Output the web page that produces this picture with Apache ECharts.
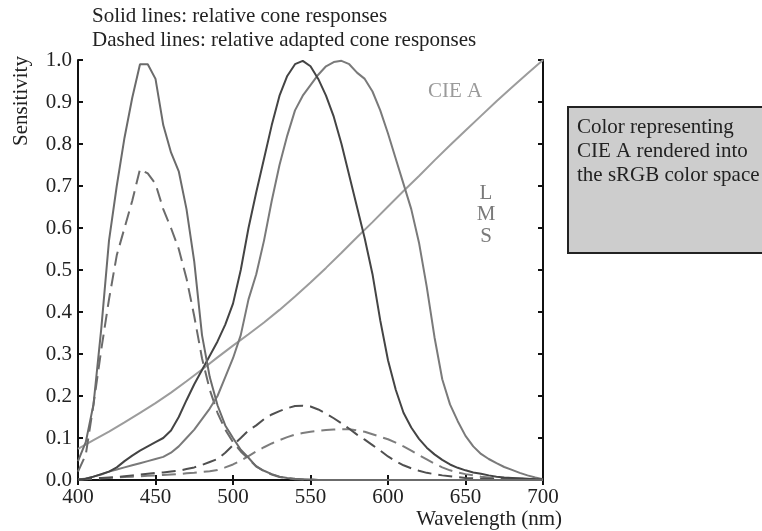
<!DOCTYPE html>
<html>
<head>
<meta charset="utf-8">
<script src="https://cdn.jsdelivr.net/npm/echarts@6/dist/echarts.min.js"></script>
<style>html,body{margin:0;padding:0;background:#fff}#c{width:762px;height:531px}</style>
</head>
<body>
<div id="c"></div>
<script>
// ---- data ----
const wavelengths = [400,405,410,415,420,425,430,435,440,445,450,455,460,465,470,475,480,485,490,495,500,505,510,515,520,525,530,535,540,545,550,555,560,565,570,575,580,585,590,595,600,605,610,615,620,625,630,635,640,645,650,655,660,665,670,675,680,685,690,695,700];
const sSolid = [0.045,0.09,0.18,0.36,0.57,0.70,0.815,0.91,0.99,0.99,0.955,0.845,0.78,0.735,0.645,0.52,0.345,0.245,0.178,0.13,0.10,0.072,0.053,0.032,0.022,0.014,0.008,0.005,0.003,0.002,0.001,0,0,0,0,0,0,0,0,0,0,0,0,0,0,0,0,0,0,0,0,0,0,0,0,0,0,0,0,0,0];
const mSolid = [0.0,0.003,0.008,0.014,0.02,0.03,0.045,0.058,0.07,0.08,0.09,0.10,0.118,0.15,0.19,0.228,0.262,0.296,0.33,0.37,0.42,0.50,0.60,0.685,0.765,0.845,0.915,0.962,0.99,0.998,0.985,0.955,0.915,0.865,0.80,0.725,0.65,0.575,0.49,0.38,0.285,0.215,0.16,0.125,0.098,0.077,0.061,0.048,0.037,0.029,0.023,0.018,0.015,0.011,0.008,0.006,0.005,0.004,0.003,0.002,0.001];
const lSolid = [0.0,0.003,0.008,0.013,0.02,0.025,0.03,0.035,0.04,0.045,0.05,0.055,0.065,0.08,0.10,0.12,0.145,0.17,0.20,0.245,0.29,0.345,0.43,0.49,0.57,0.665,0.75,0.82,0.88,0.915,0.94,0.965,0.985,0.995,0.998,0.99,0.97,0.955,0.925,0.88,0.825,0.765,0.705,0.645,0.565,0.46,0.34,0.24,0.18,0.14,0.105,0.08,0.062,0.05,0.04,0.031,0.024,0.017,0.011,0.006,0.002];
const sDashed = [0.02,0.06,0.18,0.31,0.43,0.535,0.60,0.665,0.74,0.73,0.705,0.645,0.60,0.55,0.48,0.39,0.29,0.215,0.16,0.12,0.09,0.068,0.05,0.033,0.021,0.013,0.007,0.004,0.002,0.001,0.001,0,0,0,0,0,0,0,0,0,0,0,0,0,0,0,0,0,0,0,0,0,0,0,0,0,0,0,0,0,0];
const mDashed = [0.002,0.003,0.004,0.005,0.006,0.007,0.009,0.011,0.013,0.015,0.017,0.018,0.02,0.022,0.026,0.03,0.036,0.043,0.05,0.065,0.083,0.10,0.118,0.13,0.145,0.156,0.164,0.171,0.176,0.177,0.175,0.168,0.158,0.147,0.135,0.122,0.108,0.096,0.083,0.07,0.056,0.045,0.035,0.028,0.022,0.017,0.014,0.011,0.009,0.007,0.005,0.004,0.003,0.003,0.002,0.002,0.001,0.001,0.001,0.001,0.0];
const lDashed = [0.001,0.002,0.003,0.004,0.005,0.006,0.007,0.008,0.009,0.010,0.011,0.012,0.013,0.014,0.016,0.017,0.019,0.021,0.024,0.03,0.037,0.046,0.057,0.068,0.078,0.087,0.095,0.102,0.108,0.112,0.115,0.117,0.119,0.12,0.121,0.121,0.118,0.115,0.109,0.103,0.097,0.089,0.08,0.07,0.059,0.049,0.039,0.03,0.023,0.018,0.014,0.011,0.008,0.006,0.005,0.004,0.003,0.003,0.002,0.002,0.001];
const cieWavelengths = [400,410,420,430,440,450,460,470,480,490,500,510,520,530,540,550,560,570,580,590,600,610,620,630,640,650,660,670,680,690,700];
const cieA = [0.074,0.095,0.115,0.137,0.16,0.183,0.208,0.235,0.263,0.292,0.32,0.347,0.375,0.405,0.437,0.47,0.505,0.541,0.578,0.614,0.651,0.688,0.724,0.761,0.797,0.832,0.867,0.902,0.935,0.968,1.0];
const xTicks = [400,450,500,550,600,650,700];
const yTicks = [0,0.1,0.2,0.3,0.4,0.5,0.6,0.7,0.8,0.9,1.0];
const titleLines = ['Solid lines: relative cone responses','Dashed lines: relative adapted cone responses'];
const boxLines = ['Color representing','CIE A rendered into','the sRGB color space'];
const coneLabels = ['L','M','S'];

// ---- chart ----
const FONT = '"Liberation Serif", "Times New Roman", serif';
const pairs = (xs, ys) => xs.map((x, i) => [x, ys[i]]);
const chart = echarts.init(document.getElementById('c'), null, {renderer: 'canvas'});
const axisLine = {lineStyle: {color: '#111', width: 2}};
const axisTick = {inside: true, length: 5, lineStyle: {color: '#111', width: 2}};
const lbl = {fontFamily: FONT, fontSize: 21, color: '#222'};
function line(name, ys, color, dashed, xs) {
  return {
    name, type: 'line', data: pairs(xs || wavelengths, ys), symbol: 'none', smooth: false,
    lineStyle: {color, width: 2, type: dashed ? [14, 7] : 'solid'}, animation: false
  };
}
const graphics = [];
titleLines.forEach((t, i) => graphics.push({type: 'text', x: 92, y: 16 + i * 24,
  style: {text: t, font: '21px ' + FONT, fill: '#222', align: 'left', verticalAlign: 'middle'}}));
graphics.push({type: 'text', x: 21, y: 101, rotation: Math.PI / 2,
  style: {text: 'Sensitivity', font: '21px ' + FONT, fill: '#222', align: 'center', verticalAlign: 'middle'}});
graphics.push({type: 'text', x: 562, y: 519,
  style: {text: 'Wavelength (nm)', font: '21px ' + FONT, fill: '#222', align: 'right', verticalAlign: 'middle'}});
graphics.push({type: 'text', x: 428, y: 91,
  style: {text: 'CIE A', font: '21px ' + FONT, fill: '#9a9a9a', align: 'left', verticalAlign: 'middle'}});
coneLabels.forEach((t, i) => graphics.push({type: 'text', x: 486, y: 193 + i * 21.5,
  style: {text: t, font: '21px ' + FONT, fill: '#7a7a7a', align: 'center', verticalAlign: 'middle'}}));
graphics.push({type: 'rect', shape: {x: 568, y: 107, width: 200, height: 146},
  style: {fill: '#cdcdcd', stroke: '#222', lineWidth: 2}});
boxLines.forEach((t, i) => graphics.push({type: 'text', x: 577, y: 127 + i * 24,
  style: {text: t, font: '21px ' + FONT, fill: '#222', align: 'left', verticalAlign: 'middle'}}));

chart.setOption({
  animation: false,
  backgroundColor: '#fff',
  grid: {left: 78, right: 219, top: 60, bottom: 51, containLabel: false},
  xAxis: [
    {type: 'value', position: 'bottom', min: xTicks[0], max: xTicks[xTicks.length - 1], interval: 50,
     axisLine, axisTick, splitLine: {show: false},
     axisLabel: Object.assign({margin: 7, showMinLabel: true, showMaxLabel: true}, lbl)},
    {type: 'value', position: 'top', min: xTicks[0], max: xTicks[xTicks.length - 1], interval: 50,
     axisLine, axisTick, splitLine: {show: false}, axisLabel: {show: false}}
  ],
  yAxis: [
    {type: 'value', position: 'left', min: yTicks[0], max: yTicks[yTicks.length - 1], interval: 0.1,
     axisLine, axisTick, splitLine: {show: false},
     axisLabel: Object.assign({margin: 6, showMinLabel: true, showMaxLabel: true, formatter: v => v.toFixed(1)}, lbl)},
    {type: 'value', position: 'right', min: yTicks[0], max: yTicks[yTicks.length - 1], interval: 0.1,
     axisLine, axisTick, splitLine: {show: false}, axisLabel: {show: false}}
  ],
  series: [
    line('CIE A', cieA, '#9c9c9c', false, cieWavelengths),
    line('L dashed', lDashed, '#7d7d7d', true),
    line('M dashed', mDashed, '#505050', true),
    line('S dashed', sDashed, '#6b6b6b', true),
    line('L', lSolid, '#7a7a7a', false),
    line('M', mSolid, '#444444', false),
    line('S', sSolid, '#6b6b6b', false)
  ],
  graphic: graphics
});
</script>
</body>
</html>
